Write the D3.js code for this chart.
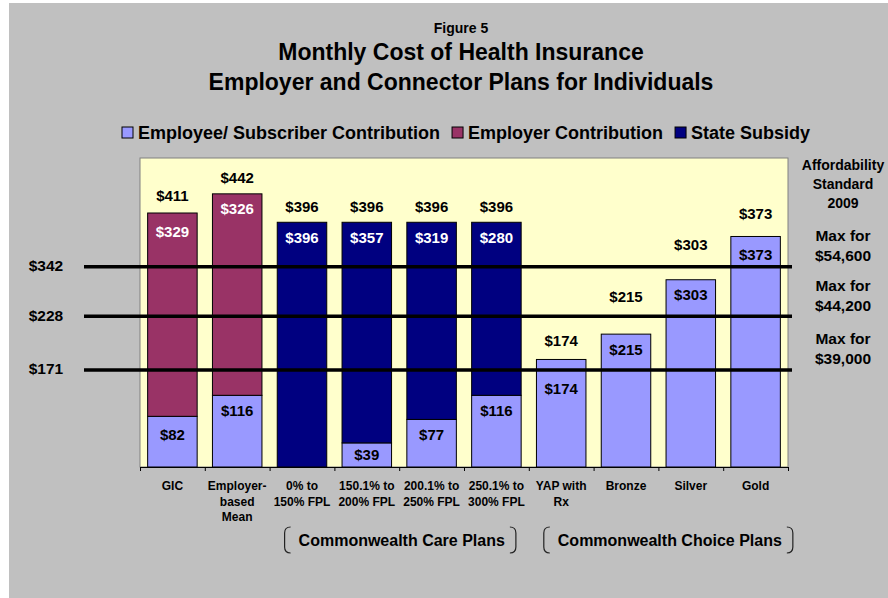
<!DOCTYPE html>
<html>
<head>
<meta charset="utf-8">
<script src="https://cdn.jsdelivr.net/npm/d3@7"></script>
<style>
  body { margin: 0; background: #fff; }
  text { font-family: "Liberation Sans", Arial, sans-serif; font-weight: bold; }
</style>
</head>
<body>
<div id="chart"></div>
<script>
// data
const categories = ['GIC', 'Employer-based Mean', '0% to 150% FPL', '150.1% to 200% FPL', '200.1% to 250% FPL',
    '250.1% to 300% FPL', 'YAP with Rx', 'Bronze', 'Silver', 'Gold']
const categoryLines = [['GIC'], ['Employer-', 'based', 'Mean'], ['0% to', '150% FPL'], ['150.1% to', '200% FPL'],
    ['200.1% to', '250% FPL'], ['250.1% to', '300% FPL'], ['YAP with', 'Rx'], ['Bronze'], ['Silver'], ['Gold']]
const employeeShare = [82, 116, 0, 39, 77, 116, 174, 215, 303, 373]
const employerShare = [329, 326, 0, 0, 0, 0, 0, 0, 0, 0]
const stateSubsidy = [0, 0, 396, 357, 319, 280, 0, 0, 0, 0]
const totals = [411, 442, 396, 396, 396, 396, 174, 215, 303, 373]

const seriesKeys = ['employee', 'employer', 'state']
const seriesNames = ['Employee/ Subscriber Contribution', 'Employer Contribution', 'State Subsidy']
const seriesColors = ['#9999ff', '#993366', '#000080']

// affordability lines (level = where the line sits on the value axis)
const limitLevels = [324, 244, 157]
const limitLabels = ['$342', '$228', '$171']
const limitNotes = [['Max for', '$54,600'], ['Max for', '$44,200'], ['Max for', '$39,000']]
const noteHeader = ['Affordability', 'Standard', '2009']

const planGroups = [
    { name: 'Commonwealth Care Plans', first: '0% to 150% FPL' },
    { name: 'Commonwealth Choice Plans', first: 'YAP with Rx' }
]

// how far each total label floats above its bar (px)
const totalLift = [18, 16, 16, 16, 16, 16, 19, 38, 35, 23]
// how far the inner label sits below the top of its segment (px)
const innerDrop = [18, 15, 15, 15, 15, 15, 29, 15, 15, 18]

function draw() {
    const dimensions = { width: 888, height: 598 }
    const plot = { left: 140, right: 788, top: 158, bottom: 467 }

    const svg = d3.select('#chart')
        .append('svg')
        .attr('width', dimensions.width)
        .attr('height', dimensions.height)

    // background
    svg.append('rect')
        .attr('x', 9).attr('y', 3)
        .attr('width', dimensions.width - 9)
        .attr('height', dimensions.height - 3)
        .attr('fill', '#c0c0c0')

    svg.append('rect')
        .attr('x', plot.left).attr('y', plot.top)
        .attr('width', plot.right - plot.left)
        .attr('height', plot.bottom - plot.top)
        .attr('fill', '#ffffcc')
        .attr('stroke', '#808080')

    // titles
    const titles = [
        { t: 'Figure 5', y: 28, size: 14 },
        { t: 'Monthly Cost of Health Insurance', y: 52, size: 23 },
        { t: 'Employer and Connector Plans for Individuals', y: 82, size: 23 }
    ]
    svg.append('g').selectAll('text')
        .data(titles)
        .join('text')
        .attr('x', 461)
        .attr('y', d => d.y)
        .attr('text-anchor', 'middle')
        .attr('dominant-baseline', 'central')
        .attr('font-size', d => d.size)
        .text(d => d.t)

    // legend
    const legend = svg.append('g')
    let lx = 122
    seriesNames.forEach((name, i) => {
        legend.append('rect')
            .attr('x', lx).attr('y', 127)
            .attr('width', 11).attr('height', 11)
            .attr('fill', seriesColors[i])
            .attr('stroke', '#000')
        const t = legend.append('text')
            .attr('x', lx + 16).attr('y', 133)
            .attr('dominant-baseline', 'central')
            .attr('font-size', 18)
            .text(name)
        lx += 16 + t.node().getComputedTextLength() + 12
    })

    // scales
    const xScale = d3.scaleBand()
        .domain(categories)
        .range([plot.left, plot.right])
        .paddingInner(0.236)
        .paddingOuter(0.118)

    const tickScale = d3.scaleLinear()
        .domain([0, categories.length])
        .range([plot.left, plot.right])

    const yScale = d3.scaleLinear()
        .domain([0, 500])
        .range([plot.bottom, plot.top])

    // stacked data
    const rows = categories.map((c, i) => ({
        name: c,
        idx: i,
        employee: employeeShare[i],
        employer: employerShare[i],
        state: stateSubsidy[i]
    }))
    const stackData = d3.stack().keys(seriesKeys)(rows).map(s => {
        s.forEach(d => { d.key = s.key })
        return s
    })

    const colorScale = d3.scaleOrdinal().domain(seriesKeys).range(seriesColors)

    // bars
    const barGroups = svg.append('g')
        .selectAll('g')
        .data(stackData)
        .join('g')
        .attr('fill', d => colorScale(d.key))

    barGroups.selectAll('rect')
        .data(d => d.filter(p => p[1] > p[0]))
        .join('rect')
        .attr('x', d => xScale(d.data.name))
        .attr('y', d => yScale(d[1]))
        .attr('width', xScale.bandwidth())
        .attr('height', d => yScale(d[0]) - yScale(d[1]))
        .attr('stroke', '#000')
        .attr('stroke-width', 1)

    // x axis
    svg.append('g')
        .attr('transform', `translate(0, ${plot.bottom})`)
        .call(d3.axisBottom(tickScale)
            .tickValues(d3.range(categories.length + 1))
            .tickFormat('')
            .tickSize(4)
            .tickSizeOuter(0))
        .call(g => g.select('.domain').attr('stroke', '#000'))
        .call(g => g.selectAll('.tick line').attr('stroke', '#000'))

    // category labels
    svg.append('g').selectAll('g')
        .data(categories)
        .join('g')
        .each(function (c, i) {
            d3.select(this).selectAll('text')
                .data(categoryLines[i])
                .join('text')
                .attr('x', xScale(c) + xScale.bandwidth() / 2)
                .attr('y', (d, j) => 486 + j * 15.5)
                .attr('text-anchor', 'middle')
                .attr('dominant-baseline', 'central')
                .attr('font-size', 12)
                .text(d => d)
        })

    // affordability lines
    svg.append('g').selectAll('line')
        .data(limitLevels)
        .join('line')
        .attr('x1', 84).attr('x2', 792)
        .attr('y1', d => yScale(d)).attr('y2', d => yScale(d))
        .attr('stroke', '#000')
        .attr('stroke-width', 3.5)

    svg.append('g').selectAll('text')
        .data(limitLevels)
        .join('text')
        .attr('x', 46)
        .attr('y', d => yScale(d) - 1)
        .attr('text-anchor', 'middle')
        .attr('dominant-baseline', 'central')
        .attr('font-size', 15.5)
        .text((d, i) => limitLabels[i])

    // right notes
    svg.append('g').selectAll('text')
        .data(noteHeader)
        .join('text')
        .attr('x', 843)
        .attr('y', (d, i) => 165 + i * 19)
        .attr('text-anchor', 'middle')
        .attr('dominant-baseline', 'central')
        .attr('font-size', 14)
        .text(d => d)

    limitLevels.forEach((lv, i) => {
        svg.append('g').selectAll('text')
            .data(limitNotes[i])
            .join('text')
            .attr('x', 843)
            .attr('y', (d, j) => yScale(lv) - 31 + j * 20)
            .attr('text-anchor', 'middle')
            .attr('dominant-baseline', 'central')
            .attr('font-size', 15.5)
            .text(d => d)
    })

    // segment labels
    barGroups.selectAll('text')
        .data(d => d.filter(p => p[1] > p[0]))
        .join('text')
        .attr('x', d => xScale(d.data.name) + xScale.bandwidth() / 2)
        .attr('y', d => Math.min(yScale(d[1]) + innerDrop[d.data.idx], (yScale(d[0]) + yScale(d[1])) / 2))
        .attr('text-anchor', 'middle')
        .attr('dominant-baseline', 'central')
        .attr('font-size', 15)
        .attr('fill', d => d.key === 'employee' ? '#000' : '#fff')
        .text(d => '$' + (d[1] - d[0]))

    // totals
    svg.append('g').selectAll('text')
        .data(totals)
        .join('text')
        .attr('x', (d, i) => xScale(categories[i]) + xScale.bandwidth() / 2)
        .attr('y', (d, i) => yScale(d) - totalLift[i])
        .attr('text-anchor', 'middle')
        .attr('dominant-baseline', 'central')
        .attr('font-size', 15)
        .text(d => '$' + d)

    // plan group brackets
    planGroups.forEach(g => {
        const g0 = svg.append('g')
        const t = g0.append('text')
            .attr('x', xScale(g.first) - xScale.step() * xScale.paddingOuter() + 29)
            .attr('y', 540)
            .attr('dominant-baseline', 'central')
            .attr('font-size', 16)
            .text(g.name)
        const tx = +t.attr('x')
        const tw = t.node().getComputedTextLength()
        const bl = tx - 14, br = tx + tw + 11
        const y0 = 527, y1 = 553
        g0.append('path')
            .attr('d', `M${bl + 6},${y0} Q${bl},${y0} ${bl},${y0 + 6} L${bl},${y1 - 6} Q${bl},${y1} ${bl + 6},${y1}`)
            .attr('fill', 'none').attr('stroke', '#222').attr('stroke-width', 1.2)
        g0.append('path')
            .attr('d', `M${br - 6},${y0} Q${br},${y0} ${br},${y0 + 6} L${br},${y1 - 6} Q${br},${y1} ${br - 6},${y1}`)
            .attr('fill', 'none').attr('stroke', '#222').attr('stroke-width', 1.2)
    })
}

draw()
</script>
</body>
</html>
